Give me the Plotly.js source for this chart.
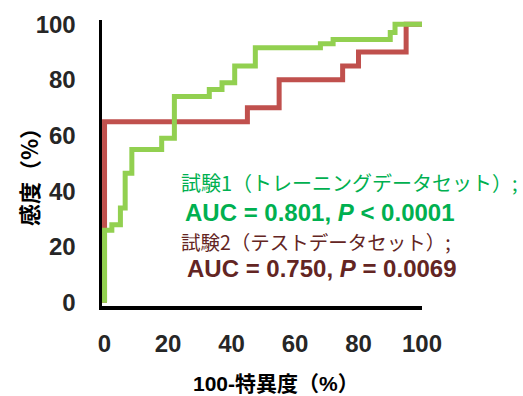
<!DOCTYPE html>
<html>
<head>
<meta charset="utf-8">
<script src="https://cdn.plot.ly/plotly-3.0.1.min.js"></script>
<style>html,body{margin:0;padding:0;background:#fff;}#chart{width:523px;height:396px;}</style>
</head>
<body>
<div id="chart"></div>
<script>
// Trial 1 (training set) ROC corner points: 100-specificity (%), sensitivity (%)
const trainFpr = [0, 0, 2.3, 5, 6.5, 8.6, 18, 22, 33, 37, 41, 47.5, 68, 72, 90, 91.5, 100];
const trainTpr = [0, 26, 28, 34, 46.5, 55, 59, 74, 76.5, 79, 85, 91.5, 93, 94.5, 97, 100, 100];
// Trial 2 (test set) ROC corner points
const testFpr = [0, 0, 45, 55, 75, 80, 95, 100];
const testTpr = [0, 65, 70, 80, 85, 90, 100, 100];

const tickVals = [0, 20, 40, 60, 80, 100];
const tickText = ["0", "20", "40", "60", "80", "100"];

const xTitle = "<b>100-特異度（%）</b>";
const yTitle = "<b>感度（%）</b>";
const label1 = "試験1（トレーニングデータセット）;";
const label2 = "<b>AUC = 0.801, <i>P</i> < 0.0001</b>";
const label3 = "試験2（テストデータセット）;";
const label4 = "<b>AUC = 0.750, <i>P</i> = 0.0069</b>";

const jp = "Noto Sans CJK JP, sans-serif";
const lat = "Liberation Sans, Arial, sans-serif";

const traces = [
  {x: testFpr, y: testTpr, type: "scatter", mode: "lines",
   line: {shape: "hv", color: "#C0504D", width: 5}, name: "試験2", hoverinfo: "skip"},
  {x: trainFpr, y: trainTpr, type: "scatter", mode: "lines",
   line: {shape: "hv", color: "#92D050", width: 5}, name: "試験1", hoverinfo: "skip"}
];

const axisCommon = {
  showgrid: false, zeroline: false, showline: true, linecolor: "#000", linewidth: 3.5,
  ticks: "", tickmode: "array", tickvals: tickVals, ticktext: tickText,
  tickfont: {family: lat, size: 24, color: "#262626", weight: "bold"}
};

const layout = {
  width: 523, height: 396,
  margin: {l: 102, r: 101, t: 20, b: 90},
  paper_bgcolor: "#fff", plot_bgcolor: "#fff",
  showlegend: false,
  xaxis: Object.assign({}, axisCommon, {range: [-0.8, 100], ticklabelstandoff: 14}),
  yaxis: Object.assign({}, axisCommon, {range: [-1.2, 101.5], ticklabelstandoff: 18}),
  annotations: [
    {xref: "paper", yref: "paper", x: 0.544, y: -0.2727, xanchor: "center", yanchor: "middle", showarrow: false,
     text: xTitle, font: {family: lat + ", " + jp, size: 21, color: "#000"}},
    {xref: "paper", yref: "paper", x: -0.231, y: 0.4685, xanchor: "center", yanchor: "middle", showarrow: false,
     textangle: -90, text: yTitle, font: {family: jp, size: 22, color: "#000"}},
    {xref: "x", yref: "y", x: 23.5, y: 43.3, xanchor: "left", yanchor: "middle", showarrow: false,
     text: label1, font: {family: jp, size: 20, color: "#00B050"}},
    {xref: "x", yref: "y", x: 24.8, y: 32.5, xanchor: "left", yanchor: "middle", showarrow: false,
     text: label2, font: {family: lat, size: 24, color: "#00B050"}},
    {xref: "x", yref: "y", x: 23.5, y: 22.0, xanchor: "left", yanchor: "middle", showarrow: false,
     text: label3, font: {family: jp, size: 19.5, color: "#632523"}},
    {xref: "x", yref: "y", x: 25.4, y: 12.4, xanchor: "left", yanchor: "middle", showarrow: false,
     text: label4, font: {family: lat, size: 24, color: "#632523"}}
  ]
};

Plotly.newPlot("chart", traces, layout, {staticPlot: true, displayModeBar: false});
</script>
</body>
</html>
